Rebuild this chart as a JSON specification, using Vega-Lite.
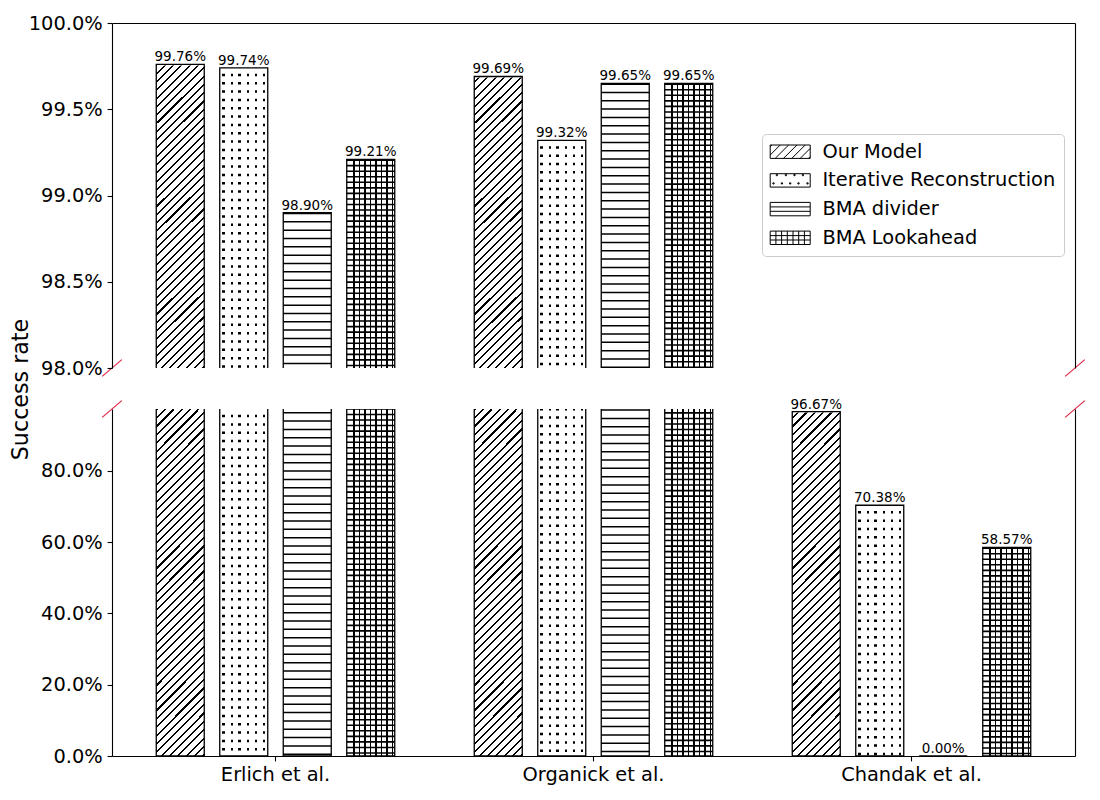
{
  "$schema": "https://vega.github.io/schema/vega-lite/v6.json",
  "description": "Success rate per dataset and decoding method, broken y axis",
  "background": "white",
  "padding": {"left": 9, "top": 13, "right": 5, "bottom": 5},
  "params": [
    {
      "name": "diagHatch",
      "value": {
        "gradient": "linear", "x1": 0, "y1": 0, "x2": 0.1638, "y2": 1.181,
        "stops": [
          {"offset": 0, "color": "#000"}, {"offset": 0.005, "color": "#000"}, {"offset": 0.005, "color": "#fff"}, {"offset": 0.02, "color": "#fff"},
          {"offset": 0.02, "color": "#000"}, {"offset": 0.025, "color": "#000"}, {"offset": 0.025, "color": "#fff"}, {"offset": 0.04, "color": "#fff"},
          {"offset": 0.04, "color": "#000"}, {"offset": 0.045, "color": "#000"}, {"offset": 0.045, "color": "#fff"}, {"offset": 0.06, "color": "#fff"},
          {"offset": 0.06, "color": "#000"}, {"offset": 0.065, "color": "#000"}, {"offset": 0.065, "color": "#fff"}, {"offset": 0.08, "color": "#fff"},
          {"offset": 0.08, "color": "#000"}, {"offset": 0.085, "color": "#000"}, {"offset": 0.085, "color": "#fff"}, {"offset": 0.1, "color": "#fff"},
          {"offset": 0.1, "color": "#000"}, {"offset": 0.105, "color": "#000"}, {"offset": 0.105, "color": "#fff"}, {"offset": 0.12, "color": "#fff"},
          {"offset": 0.12, "color": "#000"}, {"offset": 0.125, "color": "#000"}, {"offset": 0.125, "color": "#fff"}, {"offset": 0.14, "color": "#fff"},
          {"offset": 0.14, "color": "#000"}, {"offset": 0.145, "color": "#000"}, {"offset": 0.145, "color": "#fff"}, {"offset": 0.16, "color": "#fff"},
          {"offset": 0.16, "color": "#000"}, {"offset": 0.165, "color": "#000"}, {"offset": 0.165, "color": "#fff"}, {"offset": 0.18, "color": "#fff"},
          {"offset": 0.18, "color": "#000"}, {"offset": 0.185, "color": "#000"}, {"offset": 0.185, "color": "#fff"}, {"offset": 0.2, "color": "#fff"},
          {"offset": 0.2, "color": "#000"}, {"offset": 0.205, "color": "#000"}, {"offset": 0.205, "color": "#fff"}, {"offset": 0.22, "color": "#fff"},
          {"offset": 0.22, "color": "#000"}, {"offset": 0.225, "color": "#000"}, {"offset": 0.225, "color": "#fff"}, {"offset": 0.24, "color": "#fff"},
          {"offset": 0.24, "color": "#000"}, {"offset": 0.245, "color": "#000"}, {"offset": 0.245, "color": "#fff"}, {"offset": 0.26, "color": "#fff"},
          {"offset": 0.26, "color": "#000"}, {"offset": 0.265, "color": "#000"}, {"offset": 0.265, "color": "#fff"}, {"offset": 0.28, "color": "#fff"},
          {"offset": 0.28, "color": "#000"}, {"offset": 0.285, "color": "#000"}, {"offset": 0.285, "color": "#fff"}, {"offset": 0.3, "color": "#fff"},
          {"offset": 0.3, "color": "#000"}, {"offset": 0.305, "color": "#000"}, {"offset": 0.305, "color": "#fff"}, {"offset": 0.32, "color": "#fff"},
          {"offset": 0.32, "color": "#000"}, {"offset": 0.325, "color": "#000"}, {"offset": 0.325, "color": "#fff"}, {"offset": 0.34, "color": "#fff"},
          {"offset": 0.34, "color": "#000"}, {"offset": 0.345, "color": "#000"}, {"offset": 0.345, "color": "#fff"}, {"offset": 0.36, "color": "#fff"},
          {"offset": 0.36, "color": "#000"}, {"offset": 0.365, "color": "#000"}, {"offset": 0.365, "color": "#fff"}, {"offset": 0.38, "color": "#fff"},
          {"offset": 0.38, "color": "#000"}, {"offset": 0.385, "color": "#000"}, {"offset": 0.385, "color": "#fff"}, {"offset": 0.4, "color": "#fff"},
          {"offset": 0.4, "color": "#000"}, {"offset": 0.405, "color": "#000"}, {"offset": 0.405, "color": "#fff"}, {"offset": 0.42, "color": "#fff"},
          {"offset": 0.42, "color": "#000"}, {"offset": 0.425, "color": "#000"}, {"offset": 0.425, "color": "#fff"}, {"offset": 0.44, "color": "#fff"},
          {"offset": 0.44, "color": "#000"}, {"offset": 0.445, "color": "#000"}, {"offset": 0.445, "color": "#fff"}, {"offset": 0.46, "color": "#fff"},
          {"offset": 0.46, "color": "#000"}, {"offset": 0.465, "color": "#000"}, {"offset": 0.465, "color": "#fff"}, {"offset": 0.48, "color": "#fff"},
          {"offset": 0.48, "color": "#000"}, {"offset": 0.485, "color": "#000"}, {"offset": 0.485, "color": "#fff"}, {"offset": 0.5, "color": "#fff"},
          {"offset": 0.5, "color": "#000"}, {"offset": 0.505, "color": "#000"}, {"offset": 0.505, "color": "#fff"}, {"offset": 0.52, "color": "#fff"},
          {"offset": 0.52, "color": "#000"}, {"offset": 0.525, "color": "#000"}, {"offset": 0.525, "color": "#fff"}, {"offset": 0.54, "color": "#fff"},
          {"offset": 0.54, "color": "#000"}, {"offset": 0.545, "color": "#000"}, {"offset": 0.545, "color": "#fff"}, {"offset": 0.56, "color": "#fff"},
          {"offset": 0.56, "color": "#000"}, {"offset": 0.565, "color": "#000"}, {"offset": 0.565, "color": "#fff"}, {"offset": 0.58, "color": "#fff"},
          {"offset": 0.58, "color": "#000"}, {"offset": 0.585, "color": "#000"}, {"offset": 0.585, "color": "#fff"}, {"offset": 0.6, "color": "#fff"},
          {"offset": 0.6, "color": "#000"}, {"offset": 0.605, "color": "#000"}, {"offset": 0.605, "color": "#fff"}, {"offset": 0.62, "color": "#fff"},
          {"offset": 0.62, "color": "#000"}, {"offset": 0.625, "color": "#000"}, {"offset": 0.625, "color": "#fff"}, {"offset": 0.64, "color": "#fff"},
          {"offset": 0.64, "color": "#000"}, {"offset": 0.645, "color": "#000"}, {"offset": 0.645, "color": "#fff"}, {"offset": 0.66, "color": "#fff"},
          {"offset": 0.66, "color": "#000"}, {"offset": 0.665, "color": "#000"}, {"offset": 0.665, "color": "#fff"}, {"offset": 0.68, "color": "#fff"},
          {"offset": 0.68, "color": "#000"}, {"offset": 0.685, "color": "#000"}, {"offset": 0.685, "color": "#fff"}, {"offset": 0.7, "color": "#fff"},
          {"offset": 0.7, "color": "#000"}, {"offset": 0.705, "color": "#000"}, {"offset": 0.705, "color": "#fff"}, {"offset": 0.72, "color": "#fff"},
          {"offset": 0.72, "color": "#000"}, {"offset": 0.725, "color": "#000"}, {"offset": 0.725, "color": "#fff"}, {"offset": 0.74, "color": "#fff"},
          {"offset": 0.74, "color": "#000"}, {"offset": 0.745, "color": "#000"}, {"offset": 0.745, "color": "#fff"}, {"offset": 0.76, "color": "#fff"},
          {"offset": 0.76, "color": "#000"}, {"offset": 0.765, "color": "#000"}, {"offset": 0.765, "color": "#fff"}, {"offset": 0.78, "color": "#fff"},
          {"offset": 0.78, "color": "#000"}, {"offset": 0.785, "color": "#000"}, {"offset": 0.785, "color": "#fff"}, {"offset": 0.8, "color": "#fff"},
          {"offset": 0.8, "color": "#000"}, {"offset": 0.805, "color": "#000"}, {"offset": 0.805, "color": "#fff"}, {"offset": 0.82, "color": "#fff"},
          {"offset": 0.82, "color": "#000"}, {"offset": 0.825, "color": "#000"}, {"offset": 0.825, "color": "#fff"}, {"offset": 0.84, "color": "#fff"},
          {"offset": 0.84, "color": "#000"}, {"offset": 0.845, "color": "#000"}, {"offset": 0.845, "color": "#fff"}, {"offset": 0.86, "color": "#fff"},
          {"offset": 0.86, "color": "#000"}, {"offset": 0.865, "color": "#000"}, {"offset": 0.865, "color": "#fff"}, {"offset": 0.88, "color": "#fff"},
          {"offset": 0.88, "color": "#000"}, {"offset": 0.885, "color": "#000"}, {"offset": 0.885, "color": "#fff"}, {"offset": 0.9, "color": "#fff"},
          {"offset": 0.9, "color": "#000"}, {"offset": 0.905, "color": "#000"}, {"offset": 0.905, "color": "#fff"}, {"offset": 0.92, "color": "#fff"},
          {"offset": 0.92, "color": "#000"}, {"offset": 0.925, "color": "#000"}, {"offset": 0.925, "color": "#fff"}, {"offset": 0.94, "color": "#fff"},
          {"offset": 0.94, "color": "#000"}, {"offset": 0.945, "color": "#000"}, {"offset": 0.945, "color": "#fff"}, {"offset": 1, "color": "#fff"}
        ]
      }
    },
    {
      "name": "dotCols",
      "value": {
        "gradient": "linear", "x1": 0, "y1": 0, "x2": 1, "y2": 0,
        "stops": [
          {"offset": 0, "color": "#fff"}, {"offset": 0.0573, "color": "#fff"},
          {"offset": 0.0573, "color": "#000"}, {"offset": 0.1094, "color": "#000"}, {"offset": 0.1094, "color": "#fff"}, {"offset": 0.224, "color": "#fff"},
          {"offset": 0.224, "color": "#000"}, {"offset": 0.276, "color": "#000"}, {"offset": 0.276, "color": "#fff"}, {"offset": 0.3906, "color": "#fff"},
          {"offset": 0.3906, "color": "#000"}, {"offset": 0.4427, "color": "#000"}, {"offset": 0.4427, "color": "#fff"}, {"offset": 0.5573, "color": "#fff"},
          {"offset": 0.5573, "color": "#000"}, {"offset": 0.6094, "color": "#000"}, {"offset": 0.6094, "color": "#fff"}, {"offset": 0.724, "color": "#fff"},
          {"offset": 0.724, "color": "#000"}, {"offset": 0.776, "color": "#000"}, {"offset": 0.776, "color": "#fff"}, {"offset": 0.8906, "color": "#fff"},
          {"offset": 0.8906, "color": "#000"}, {"offset": 0.9427, "color": "#000"}, {"offset": 0.9427, "color": "#fff"}, {"offset": 1, "color": "#fff"}
        ]
      }
    },
    {
      "name": "gridCols",
      "value": {
        "gradient": "linear", "x1": 0, "y1": 0, "x2": 1, "y2": 0,
        "stops": [
          {"offset": 0, "color": "#fff"}, {"offset": 0.1302, "color": "#fff"},
          {"offset": 0.1302, "color": "#000"}, {"offset": 0.1635, "color": "#000"}, {"offset": 0.1635, "color": "#fff"}, {"offset": 0.2458, "color": "#fff"},
          {"offset": 0.2458, "color": "#000"}, {"offset": 0.2792, "color": "#000"}, {"offset": 0.2792, "color": "#fff"}, {"offset": 0.3615, "color": "#fff"},
          {"offset": 0.3615, "color": "#000"}, {"offset": 0.3948, "color": "#000"}, {"offset": 0.3948, "color": "#fff"}, {"offset": 0.4771, "color": "#fff"},
          {"offset": 0.4771, "color": "#000"}, {"offset": 0.5104, "color": "#000"}, {"offset": 0.5104, "color": "#fff"}, {"offset": 0.5927, "color": "#fff"},
          {"offset": 0.5927, "color": "#000"}, {"offset": 0.626, "color": "#000"}, {"offset": 0.626, "color": "#fff"}, {"offset": 0.7083, "color": "#fff"},
          {"offset": 0.7083, "color": "#000"}, {"offset": 0.7417, "color": "#000"}, {"offset": 0.7417, "color": "#fff"}, {"offset": 0.824, "color": "#fff"},
          {"offset": 0.824, "color": "#000"}, {"offset": 0.8573, "color": "#000"}, {"offset": 0.8573, "color": "#fff"}, {"offset": 0.9396, "color": "#fff"},
          {"offset": 0.9396, "color": "#000"}, {"offset": 0.9729, "color": "#000"}, {"offset": 0.9729, "color": "#fff"}, {"offset": 1, "color": "#fff"}
        ]
      }
    }
  ],
  "data": {
    "values": [
      {"dataset": "Erlich et al.", "method": "Our Model", "value": 0.9976},
      {"dataset": "Erlich et al.", "method": "Iterative Reconstruction", "value": 0.9974},
      {"dataset": "Erlich et al.", "method": "BMA divider", "value": 0.989},
      {"dataset": "Erlich et al.", "method": "BMA Lookahead", "value": 0.9921},
      {"dataset": "Organick et al.", "method": "Our Model", "value": 0.9969},
      {"dataset": "Organick et al.", "method": "Iterative Reconstruction", "value": 0.9932},
      {"dataset": "Organick et al.", "method": "BMA divider", "value": 0.9965},
      {"dataset": "Organick et al.", "method": "BMA Lookahead", "value": 0.9965},
      {"dataset": "Chandak et al.", "method": "Our Model", "value": 0.9667},
      {"dataset": "Chandak et al.", "method": "Iterative Reconstruction", "value": 0.7038},
      {"dataset": "Chandak et al.", "method": "BMA divider", "value": 0},
      {"dataset": "Chandak et al.", "method": "BMA Lookahead", "value": 0.5857}
    ]
  },
  "spacing": 41,
  "bounds": "flush",
  "resolve": {"scale": {"shape": "independent"}, "legend": {"shape": "independent"}},
  "vconcat": [
    {
      "width": 963,
      "height": 345,
      "layer": [
        {
          "encoding": {
            "x": {"field": "dataset", "type": "nominal", "title": null,
                  "scale": {"domain": ["Erlich et al.", "Organick et al.", "Chandak et al."], "paddingInner": 0, "paddingOuter": 0.01415},
                  "axis": {"orient": "top", "labels": false, "ticks": false, "title": null, "zindex": 2}},
            "xOffset": {"field": "method", "type": "nominal",
                        "scale": {"domain": ["Our Model", "Iterative Reconstruction", "BMA divider", "BMA Lookahead"], "paddingInner": 0.244, "paddingOuter": 0.626}}
          },
          "layer": [
            {
              "transform": [{"filter": "datum.method === 'Our Model' && datum.value >= 0.98"}],
              "mark": {"type": "bar", "fill": {"expr": "diagHatch"}},
              "encoding": {
                "y": {"datum": 1, "type": "quantitative", "scale": {"domain": [0.98, 1]}},
                "y2": {"datum": 0.98}
              }
            },
            {
              "transform": [{"filter": "datum.method === 'Our Model' && datum.value >= 0.98"}],
              "mark": {"type": "bar", "fill": "white", "stroke": "white", "strokeWidth": 2, "clip": true},
              "encoding": {
                "y": {"field": "value", "type": "quantitative", "scale": {"domain": [0.98, 1]}},
                "y2": {"datum": 1.001}
              }
            },
            {
              "transform": [{"filter": "datum.method === 'Iterative Reconstruction' && datum.value >= 0.98"}],
              "mark": {"type": "bar", "fill": {"expr": "dotCols"}, "clip": true},
              "encoding": {
                "y": {"field": "value", "type": "quantitative", "scale": {"domain": [0.98, 1]}},
                "y2": {"datum": 0.98}
              }
            },
            {
              "transform": [{"filter": "datum.method === 'Iterative Reconstruction' && datum.value >= 0.98"}],
              "mark": {"type": "rule", "color": "white", "strokeWidth": 46, "strokeDash": [5.83, 2.5], "clip": true},
              "encoding": {
                "y": {"field": "value", "type": "quantitative", "scale": {"domain": [0.98, 1]}},
                "y2": {"datum": 0.98}
              }
            },
            {
              "transform": [{"filter": "datum.method === 'BMA Lookahead' && datum.value >= 0.98"}],
              "mark": {"type": "bar", "fill": {"expr": "gridCols"}, "clip": true},
              "encoding": {
                "y": {"field": "value", "type": "quantitative", "scale": {"domain": [0.98, 1]}},
                "y2": {"datum": 0.98}
              }
            },
            {
              "transform": [{"filter": "datum.method === 'BMA Lookahead' && datum.value >= 0.98"}],
              "mark": {"type": "rule", "color": "black", "strokeWidth": 48, "strokeDash": [1.6, 3.95], "clip": true},
              "encoding": {
                "y": {"field": "value", "type": "quantitative", "scale": {"domain": [0.98, 1]}},
                "y2": {"datum": 0.98}
              }
            },
            {
              "transform": [{"filter": "datum.method === 'BMA divider' && datum.value >= 0.98"}],
              "mark": {"type": "rule", "color": "black", "strokeWidth": 48, "strokeDash": [1.5, 6.83], "clip": true},
              "encoding": {
                "y": {"field": "value", "type": "quantitative", "scale": {"domain": [0.98, 1]}},
                "y2": {"datum": 0.98}
              }
            },
            {
              "transform": [{"filter": "datum.value >= 0.98"}],
              "mark": {"type": "bar", "fill": "transparent", "stroke": "black", "strokeWidth": 1.3, "clip": true},
              "encoding": {
                "y": {"field": "value", "type": "quantitative", "scale": {"domain": [0.98, 1]},
                      "axis": {"orient": "left", "values": [0.98, 0.985, 0.99, 0.995, 1], "format": ".1%", "zindex": 2,
                               "title": "Success rate", "titleFontSize": 22.2, "titleX": -92, "titleY": 366,
                               "titleAngle": -90, "titleAlign": "center", "titleBaseline": "middle"}},
                "y2": {"datum": 0.97}
              }
            },
            {
              "transform": [{"filter": "datum.value >= 0.98"}],
              "mark": {"type": "text", "baseline": "alphabetic", "dy": -3, "fontSize": 13.5, "color": "black"},
              "encoding": {
                "y": {"field": "value", "type": "quantitative", "scale": {"domain": [0.98, 1]}},
                "text": {"field": "value", "type": "quantitative", "format": ".2%"}
              }
            },
            {
              "transform": [{"filter": "datum.value >= 0.98"}],
              "mark": {"type": "point", "filled": false, "opacity": 0, "size": 4, "color": "black"},
              "encoding": {
                "y": {"field": "value", "type": "quantitative", "scale": {"domain": [0.98, 1]}},
                "shape": {
                  "field": "method", "type": "nominal",
                  "scale": {
                    "domain": ["Our Model", "Iterative Reconstruction", "BMA divider", "BMA Lookahead"],
                    "range": [
                      "M-9.5,-6.7H30.5V6.7H-9.5Z M-7.8,-6.7L-9.5,-5 M0.5,-6.7L-9.5,3.3 M8.9,-6.7L-4.5,6.7 M17.2,-6.7L3.8,6.7 M25.5,-6.7L12.1,6.7 M30.5,-3.3L20.5,6.7 M30.5,5L28.8,6.7",
                      "M-9.5,-6.7H30.5V6.7H-9.5Z M-3.4,-5.9h1.2v1.2h-1.2z M5.6,-5.9h1.2v1.2h-1.2z M14.2,-5.9h1.2v1.2h-1.2z M22.6,-5.9h1.2v1.2h-1.2z M-6.8,2.4h1.2v1.2h-1.2z M1.6,2.4h1.2v1.2h-1.2z M9.9,2.4h1.2v1.2h-1.2z M18.2,2.4h1.2v1.2h-1.2z M27.2,2.4h1.2v1.2h-1.2z",
                      "M-9.5,-6.7H30.5V6.7H-9.5Z M-9.5,-2.2H30.5 M-9.5,2.2H30.5",
                      "M-9.5,-6.7H30.5V6.7H-9.5Z M-9.5,-2.2H30.5 M-9.5,2.2H30.5 M-3.8,-6.7V6.7 M1.9,-6.7V6.7 M7.6,-6.7V6.7 M13.3,-6.7V6.7 M19,-6.7V6.7 M24.7,-6.7V6.7"
                    ]
                  },
                  "legend": {
                    "title": null, "orient": "none", "legendX": 650, "legendY": 111,
                    "symbolSize": 4, "symbolStrokeWidth": 1, "symbolOpacity": 1, "symbolStrokeColor": "black",
                    "labelFont": "DejaVu Sans", "labelFontSize": 19.4, "labelColor": "black", "labelLimit": 400,
                    "labelOffset": 33, "rowPadding": 7.7, "padding": 8,
                    "fillColor": "white", "strokeColor": "#cccccc", "cornerRadius": 4
                  }
                }
              }
            }
          ]
        },
        {
          "data": {"values": [{"edge": 0}, {"edge": 1}]},
          "mark": {"type": "point", "shape": "M-9.8,8.4L9.8,-8.4", "size": 4, "filled": false, "color": "#dc2845", "strokeWidth": 1.2, "opacity": 1},
          "encoding": {
            "x": {"field": "edge", "type": "quantitative", "scale": {"domain": [0, 1]}, "axis": null},
            "y": {"datum": 0.98, "type": "quantitative", "scale": {"domain": [0.98, 1]},
                  "axis": {"orient": "right", "labels": false, "ticks": false, "title": null, "zindex": 2}}
          }
        }
      ],
      "resolve": {"scale": {"x": "independent"}, "axis": {"x": "independent", "y": "independent"}}
    },
    {
      "width": 963,
      "height": 347,
      "layer": [
        {
          "encoding": {
            "x": {"field": "dataset", "type": "nominal", "title": null,
                  "scale": {"domain": ["Erlich et al.", "Organick et al.", "Chandak et al."], "paddingInner": 0, "paddingOuter": 0.01415},
                  "axis": {"orient": "bottom", "labelAngle": 0, "title": null, "zindex": 2}},
            "xOffset": {"field": "method", "type": "nominal",
                        "scale": {"domain": ["Our Model", "Iterative Reconstruction", "BMA divider", "BMA Lookahead"], "paddingInner": 0.244, "paddingOuter": 0.626}}
          },
          "layer": [
            {
              "transform": [{"filter": "datum.method === 'Our Model'"}],
              "mark": {"type": "bar", "fill": {"expr": "diagHatch"}},
              "encoding": {
                "y": {"datum": 0.974, "type": "quantitative", "scale": {"domain": [0, 0.974]}},
                "y2": {"datum": 0}
              }
            },
            {
              "transform": [{"filter": "datum.method === 'Our Model'"}],
              "mark": {"type": "bar", "fill": "white", "stroke": "white", "strokeWidth": 2, "clip": true},
              "encoding": {
                "y": {"field": "value", "type": "quantitative", "scale": {"domain": [0, 0.974]}},
                "y2": {"datum": 0.98}
              }
            },
            {
              "transform": [{"filter": "datum.method === 'Iterative Reconstruction'"}],
              "mark": {"type": "bar", "fill": {"expr": "dotCols"}, "clip": true},
              "encoding": {
                "y": {"field": "value", "type": "quantitative", "scale": {"domain": [0, 0.974]}},
                "y2": {"datum": 0}
              }
            },
            {
              "transform": [{"filter": "datum.method === 'Iterative Reconstruction'"}],
              "mark": {"type": "rule", "color": "white", "strokeWidth": 46, "strokeDash": [5.83, 2.5], "clip": true},
              "encoding": {
                "y": {"field": "value", "type": "quantitative", "scale": {"domain": [0, 0.974]}},
                "y2": {"datum": 0}
              }
            },
            {
              "transform": [{"filter": "datum.method === 'BMA Lookahead'"}],
              "mark": {"type": "bar", "fill": {"expr": "gridCols"}, "clip": true},
              "encoding": {
                "y": {"field": "value", "type": "quantitative", "scale": {"domain": [0, 0.974]}},
                "y2": {"datum": 0}
              }
            },
            {
              "transform": [{"filter": "datum.method === 'BMA Lookahead'"}],
              "mark": {"type": "rule", "color": "black", "strokeWidth": 48, "strokeDash": [1.6, 3.95], "clip": true},
              "encoding": {
                "y": {"field": "value", "type": "quantitative", "scale": {"domain": [0, 0.974]}},
                "y2": {"datum": 0}
              }
            },
            {
              "transform": [{"filter": "datum.method === 'BMA divider'"}],
              "mark": {"type": "rule", "color": "black", "strokeWidth": 48, "strokeDash": [1.5, 6.83], "clip": true},
              "encoding": {
                "y": {"field": "value", "type": "quantitative", "scale": {"domain": [0, 0.974]}},
                "y2": {"datum": 0}
              }
            },
            {
              "mark": {"type": "bar", "fill": "transparent", "stroke": "black", "strokeWidth": 1.3, "clip": true},
              "encoding": {
                "y": {"field": "value", "type": "quantitative", "scale": {"domain": [0, 0.974]},
                      "axis": {"orient": "left", "values": [0, 0.2, 0.4, 0.6, 0.8], "format": ".1%", "title": null, "zindex": 2}},
                "y2": {"datum": 0}
              }
            },
            {
              "transform": [{"filter": "datum.value < 0.974"}],
              "mark": {"type": "text", "baseline": "alphabetic", "dy": -3, "fontSize": 13.5, "color": "black"},
              "encoding": {
                "y": {"field": "value", "type": "quantitative", "scale": {"domain": [0, 0.974]}},
                "text": {"field": "value", "type": "quantitative", "format": ".2%"}
              }
            }
          ]
        },
        {
          "data": {"values": [{"edge": 0}, {"edge": 1}]},
          "mark": {"type": "point", "shape": "M-9.8,8.4L9.8,-8.4", "size": 4, "filled": false, "color": "#dc2845", "strokeWidth": 1.2, "opacity": 1},
          "encoding": {
            "x": {"field": "edge", "type": "quantitative", "scale": {"domain": [0, 1]}, "axis": null},
            "y": {"datum": 0.974, "type": "quantitative", "scale": {"domain": [0, 0.974]},
                  "axis": {"orient": "right", "labels": false, "ticks": false, "title": null, "zindex": 2}}
          }
        }
      ],
      "resolve": {"scale": {"x": "independent"}, "axis": {"x": "independent", "y": "independent"}}
    }
  ],
  "config": {
    "font": "DejaVu Sans",
    "view": {"stroke": null},
    "axis": {
      "labelFont": "DejaVu Sans", "labelFontSize": 19.4, "labelColor": "black",
      "tickColor": "black", "domainColor": "black", "tickSize": 4.9, "tickWidth": 1.1,
      "domainWidth": 1.1, "labelPadding": 4.9, "grid": false,
      "titleFont": "DejaVu Sans", "titleColor": "black", "titleFontWeight": "normal",
      "labelOverlap": false
    }
  }
}
